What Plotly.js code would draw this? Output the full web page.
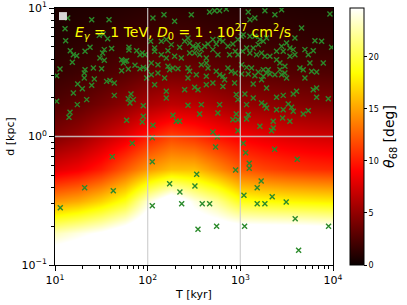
<!DOCTYPE html>
<html>
<head>
<meta charset="utf-8">
<script src="https://cdn.plot.ly/plotly-3.0.1.min.js"></script>
<style>html,body{margin:0;padding:0;background:#fff;}#chart{width:407px;height:305px;}</style>
</head>
<body>
<div id="chart"></div>
<script>
// Heatmap grid (log10 of T [kyr] and d [kpc]) and theta68 [deg] values
const gridLogT = [1, 1.25, 1.5, 1.75, 2, 2.25, 2.5, 2.75, 3, 3.25, 3.5, 3.75, 4];
const gridLogD = [-1, -0.75, -0.5, -0.25, 0, 0.25, 0.5, 0.75, 1];
const theta68 = [
  [27.5, 28, 29, 30, 31, 32, 30, 29, 28, 27.5, 27, 27, 27],
  [23, 24, 25, 26.5, 28, 29.5, 27, 27, 27, 27, 27, 26.8, 26.5],
  [14.5, 15.3, 16.8, 19, 23.7, 27, 24, 22, 19, 18.5, 18.2, 18, 17.8],
  [7.8, 8.6, 10, 12.3, 14.6, 16, 16, 14.2, 12.3, 11.5, 11, 10.7, 10.5],
  [4.4, 5.3, 6.7, 8.1, 10.1, 11.6, 10.9, 9.7, 8.8, 8.2, 7.8, 7.5, 7.3],
  [2.6, 3.1, 3.9, 4.8, 5.9, 6.6, 6.4, 5.8, 5.2, 4.9, 4.6, 4.4, 4.3],
  [1.6, 1.9, 2.3, 2.8, 3.4, 3.8, 3.7, 3.3, 3.0, 2.8, 2.7, 2.6, 2.5],
  [1.0, 1.2, 1.4, 1.7, 2.0, 2.2, 2.1, 1.9, 1.8, 1.7, 1.6, 1.5, 1.5],
  [0.6, 0.75, 0.9, 1.05, 1.2, 1.3, 1.25, 1.15, 1.05, 1.0, 0.95, 0.9, 0.9]
];

// Sources (log10 T [kyr], log10 d [kpc])
const srcLogT = [
1.137,1.396,1.583,1.108,1.478,1.521,1.568,1.115,1.378,1.324,1.532,1.514,1.611,1.165,1.198,1.234,1.798,1.798,1.881,1.942,1.971,1.917,
1.187,1.485,1.532,1.719,1.755,1.737,1.773,1.863,1.953,1.989,1.917,1.054,1.324,1.414,1.503,1.719,1.316,1.018,1.791,
1.316,1.424,1.245,1.557,1.593,1.640,1.295,1.396,1.989,1.198,1.640,1.820,1.791,1.845,1.342,1.809,1.018,1.241,1.953,1.162,1.151,1.953,1.773,1.942,
2.057,2.176,2.291,2.471,2.668,2.722,2.776,2.848,
2.032,2.147,2.201,2.255,2.075,2.075,2.219,2.345,2.399,2.435,2.453,2.489,2.525,2.543,2.579,2.615,2.651,2.704,2.740,2.776,2.812,2.866,2.920,2.945,3.010,2.974,
2.147,2.201,2.291,2.363,2.453,2.507,2.561,2.633,2.704,2.758,2.884,2.974,
2.039,2.111,2.219,2.237,2.273,2.327,2.435,2.453,2.579,2.633,2.651,2.740,2.776,2.812,2.866,2.902,2.945,2.039,2.183,2.111,2.435,2.525,2.633,2.704,2.830,2.938,
2.075,2.201,2.201,2.399,2.507,2.543,2.633,2.812,2.956,2.435,2.579,2.776,2.974,
2.273,2.309,2.345,2.561,2.758,2.956,2.920,2.974,2.057,2.704,2.974,
3.085,3.265,3.373,3.445,3.967,3.103,3.157,3.661,3.589,
3.032,3.103,3.157,3.211,3.247,3.283,3.193,3.139,3.068,3.024,3.103,3.175,3.229,3.265,3.319,3.391,3.445,3.463,3.499,3.535,3.571,3.589,3.535,3.391,3.427,3.481,3.805,3.877,3.985,3.697,3.733,3.787,
3.014,3.068,3.121,3.193,3.247,3.283,3.319,3.373,3.427,3.445,3.481,3.499,3.643,3.679,3.751,3.895,3.697,3.769,3.823,3.157,3.247,3.014,3.085,3.301,
3.139,3.229,3.283,3.049,3.139,3.391,3.463,3.571,3.607,3.823,3.787,3.949,3.823,3.229,3.265,3.283,3.517,3.553,3.067,
3.391,3.463,3.571,3.679,3.733,3.085,3.067,3.456,3.535,3.355,3.211,3.355,3.337,
1.834,1.618,2.050,2.050,1.320,1.629,1.057,2.237,2.348,2.050,2.367,2.510,2.751,2.733,3.031,3.057,3.370,3.614,2.949,3.096,3.096,2.529,
3.225,3.182,3.039,3.344,3.495,3.182,3.265,2.589,2.669,3.592,2.543,2.744,3.046,3.952,3.629
];
const srcLogD = [
0.922,0.909,0.909,0.839,0.787,0.798,0.761,0.746,0.694,0.663,0.676,0.650,0.684,0.668,0.637,0.629,0.694,0.673,0.668,0.650,0.637,0.637,
0.577,0.611,0.593,0.598,0.585,0.572,0.590,0.554,0.538,0.528,0.528,0.525,0.520,0.533,0.528,0.512,0.494,0.473,0.525,
0.455,0.447,0.409,0.429,0.435,0.416,0.372,0.398,0.455,0.339,0.320,0.331,0.294,0.287,0.287,0.261,0.274,0.248,0.240,0.188,0.149,0.157,0.126,0.113,
0.922,0.948,0.896,0.948,0.969,0.979,0.979,0.992,
0.741,0.741,0.754,0.715,0.689,0.663,0.668,0.694,0.741,0.767,0.728,0.702,0.689,0.715,0.676,0.702,0.720,0.754,0.720,0.754,0.741,0.702,0.720,0.663,0.780,0.754,
0.637,0.611,0.624,0.611,0.650,0.650,0.637,0.611,0.676,0.637,0.637,0.637,
0.572,0.559,0.546,0.520,0.533,0.528,0.533,0.507,0.559,0.572,0.533,0.507,0.481,0.468,0.533,0.507,0.494,0.481,0.455,0.494,0.455,0.481,0.468,0.416,0.442,0.416,
0.403,0.352,0.300,0.364,0.383,0.364,0.403,0.390,0.326,0.243,0.248,0.248,0.287,
0.165,0.118,0.118,0.175,0.183,0.175,0.131,0.131,0.087,0.035,0.045,
0.969,0.979,0.948,0.987,0.953,0.909,0.922,0.844,0.767,
0.792,0.780,0.780,0.754,0.741,0.767,0.715,0.689,0.689,0.663,0.650,0.637,0.650,0.624,0.624,0.663,0.702,0.663,0.728,0.689,0.676,0.637,0.624,0.598,0.572,0.546,0.746,0.741,0.694,0.676,0.637,0.668,
0.559,0.538,0.533,0.502,0.520,0.494,0.486,0.481,0.520,0.481,0.494,0.455,0.533,0.520,0.572,0.572,0.455,0.507,0.502,0.473,0.468,0.486,0.486,0.520,
0.409,0.442,0.377,0.331,0.300,0.305,0.320,0.331,0.352,0.377,0.364,0.294,0.305,0.261,0.243,0.222,0.253,0.227,0.248,
0.209,0.209,0.196,0.175,0.201,0.170,0.136,0.144,0.118,0.118,0.079,0.066,0.045,
-0.053,-0.157,-0.009,-0.196,-0.398,-0.422,-0.554,-0.367,-0.432,-0.539,-0.523,-0.385,-0.004,-0.082,-0.053,-0.126,-0.100,-0.177,-0.261,-0.209,-0.247,-0.294,
-0.346,-0.398,-0.458,-0.468,-0.510,-0.523,-0.523,-0.523,-0.523,-0.640,-0.722,-0.699,-0.699,-0.699,-0.886
];

// Tick labels
const xTickVals = [10, 100, 1000, 10000];
const xTickText = ['10<sup>1</sup>', '10<sup>2</sup>', '10<sup>3</sup>', '10<sup>4</sup>'];
const yTickVals = [0.1, 1, 10];
const yTickText = ['10<sup>\u22121</sup>', '10<sup>0</sup>', '10<sup>1</sup>'];
const cbTickVals = [0, 5, 10, 15, 20];

const pow10 = v => Math.pow(10, v);
const gridT = gridLogT.map(pow10);
const gridD = gridLogD.map(pow10);
const srcT = srcLogT.map(pow10);
const srcD = srcLogD.map(pow10);

function minorTicks(lo, hi) {
  const out = [];
  for (let e = lo; e < hi; e++) for (let k = 2; k <= 9; k++) out.push(k * Math.pow(10, e));
  return out;
}

const hot = [[0, 'rgb(10,0,0)'], [0.365, 'rgb(255,0,0)'], [0.746, 'rgb(255,255,0)'], [1, 'rgb(255,255,255)']];
const FONT = 'DejaVu Sans, sans-serif';

const heat = {
  type: 'heatmap', x: gridT, y: gridD, z: theta68,
  zsmooth: 'best', colorscale: hot, zmin: 0, zmax: 24.7,
  colorbar: {
    x: 1.061, xanchor: 'left', xpad: 0, y: 0.5, yanchor: 'middle', len: 1, ypad: 0,
    thickness: 14, outlinewidth: 1, outlinecolor: '#000',
    tickmode: 'array', tickvals: cbTickVals, ticks: 'outside', ticklen: 3, tickcolor: '#000',
    tickfont: {size: 8, family: FONT, color: '#000'},
    title: {text: '<i>θ</i><sub>68</sub> [deg]', side: 'right', font: {size: 14, family: FONT, color: '#000'}}
  },
  hoverinfo: 'skip'
};

const pts = {
  type: 'scatter', mode: 'markers', x: srcT, y: srcD,
  marker: {symbol: 'x-thin', size: 5, color: '#2a8a2a', line: {color: '#2a8a2a', width: 1.4}},
  showlegend: false
};

const shapes = [];
xTickVals.filter(v => v > 10 && v < 10000).forEach(v => shapes.push({
  type: 'line', xref: 'x', yref: 'paper', x0: v, x1: v, y0: 0, y1: 1,
  line: {color: 'rgba(205,205,205,0.85)', width: 1.3}, layer: 'above'
}));
yTickVals.filter(v => v > 0.1 && v < 10).forEach(v => shapes.push({
  type: 'line', xref: 'paper', yref: 'y', x0: 0, x1: 1, y0: v, y1: v,
  line: {color: 'rgba(205,205,205,0.85)', width: 1.3}, layer: 'above'
}));
// empty legend frame in the corner
shapes.push({type: 'rect', xref: 'paper', yref: 'paper', x0: 0.0144, x1: 0.043, y0: 0.953, y1: 0.984,
  fillcolor: 'rgba(225,225,225,0.95)', line: {width: 0}, layer: 'above'});

const axisCommon = {
  type: 'log', showgrid: false, zeroline: false,
  showline: true, linecolor: '#000', linewidth: 1, mirror: true,
  ticks: 'outside', ticklen: 5, tickwidth: 1, tickcolor: '#000',
  tickmode: 'array', tickfont: {size: 11, family: FONT, color: '#000'},
  layer: 'above traces'
};

const layout = {
  width: 407, height: 305,
  margin: {l: 55, r: 74, t: 8, b: 40},
  paper_bgcolor: '#fff', plot_bgcolor: '#fff',
  font: {family: FONT, color: '#000'},
  xaxis: Object.assign({}, axisCommon, {
    range: [1, 4], tickvals: xTickVals, ticktext: xTickText,
    minor: {tickmode: 'array', tickvals: minorTicks(1, 4), ticks: 'outside', ticklen: 3, tickcolor: '#000', showgrid: false},
    title: {text: 'T [kyr]', font: {size: 11, family: FONT}, standoff: 4}
  }),
  yaxis: Object.assign({}, axisCommon, {
    range: [-1, 1], tickvals: yTickVals, ticktext: yTickText,
    minor: {tickmode: 'array', tickvals: minorTicks(-1, 1), ticks: 'outside', ticklen: 3, tickcolor: '#000', showgrid: false},
    title: {text: 'd [kpc]', font: {size: 11, family: FONT}, standoff: 4}
  }),
  shapes: shapes,
  annotations: [{
    xref: 'paper', yref: 'paper', x: 0.063, y: 0.905, xanchor: 'left', yanchor: 'middle', showarrow: false,
    text: '<i>E</i><sub><i>γ</i></sub> = 1 TeV, <i>D</i><sub>0</sub> = 1 · 10<sup>27</sup> cm<sup>2</sup>/s',
    font: {size: 14, family: FONT, color: '#ffff00'}
  }],
  showlegend: false
};

Plotly.newPlot('chart', [heat, pts], layout, {displayModeBar: false, staticPlot: true});
</script>
</body>
</html>
